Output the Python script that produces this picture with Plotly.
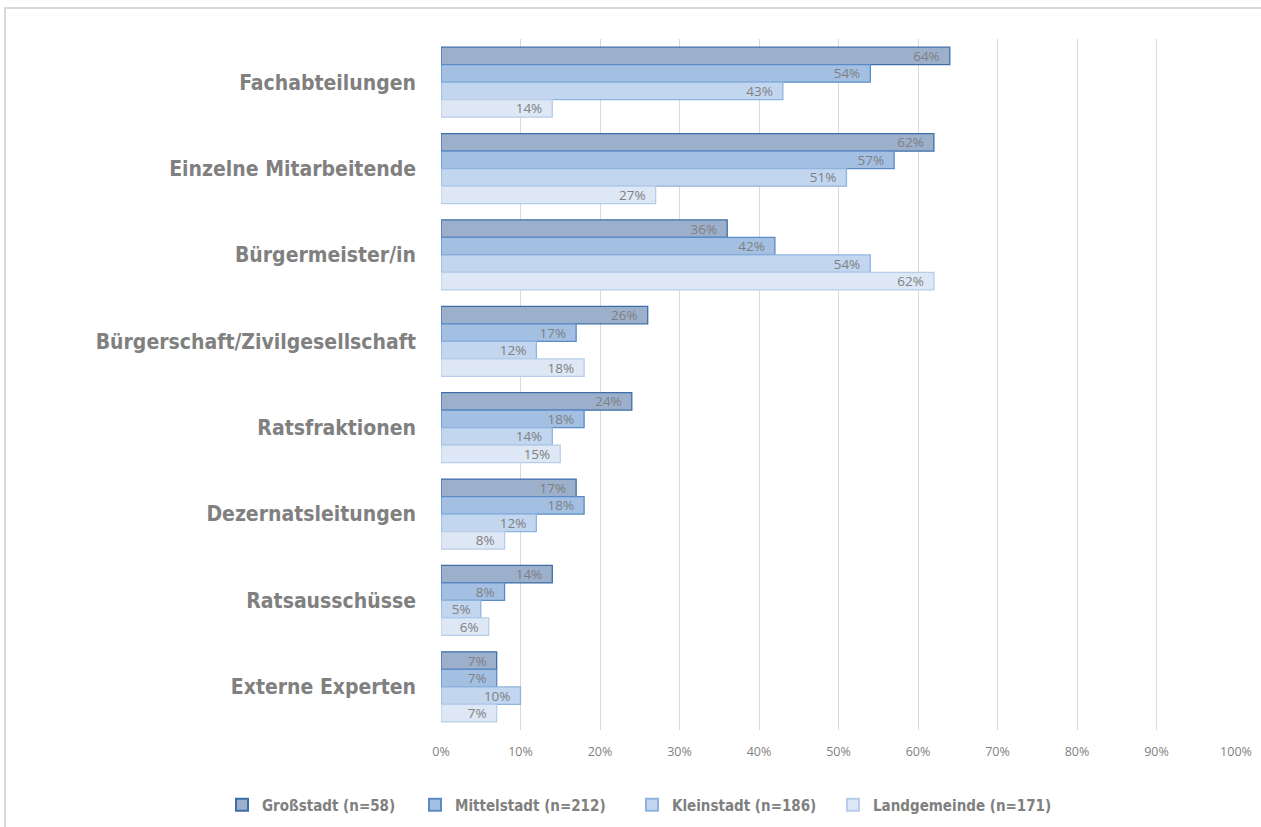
import plotly.graph_objects as go

categories = ["Fachabteilungen", "Einzelne Mitarbeitende", "Bürgermeister/in",
              "Bürgerschaft/Zivilgesellschaft", "Ratsfraktionen", "Dezernatsleitungen",
              "Ratsausschüsse", "Externe Experten"]
series_names = ["Großstadt (n=58)", "Mittelstadt (n=212)", "Kleinstadt (n=186)", "Landgemeinde (n=171)"]
grossstadt = [64, 62, 36, 26, 24, 17, 14, 7]
mittelstadt = [54, 57, 42, 17, 18, 18, 8, 7]
kleinstadt = [43, 51, 54, 12, 14, 12, 5, 10]
landgemeinde = [14, 27, 62, 18, 15, 8, 6, 7]
tick_vals = [0, 10, 20, 30, 40, 50, 60, 70, 80, 90, 100]
tick_text = [f"{v}%" for v in tick_vals]

fills = ["#9cb0cc", "#a3c0e3", "#c2d6ef", "#dde7f5"]
borders = ["#3d6ea8", "#5b8bc7", "#8fb3df", "#b8cde9"]
legend_ids = ["legend", "legend2", "legend3", "legend4"]
legend_px = [222, 415, 632, 833]

W, H = 1261, 827
L, R, T, B = 441, 25, 39, 97
pw, ph = W - L - R, H - T - B

fig = go.Figure()
for name, vals, fc, bc, lg in zip(series_names, [grossstadt, mittelstadt, kleinstadt, landgemeinde],
                                  fills, borders, legend_ids):
    fig.add_trace(go.Bar(
        y=categories, x=vals, orientation="h", name=name, legend=lg,
        marker=dict(color=fc, line=dict(color=bc, width=1.3)),
        text=[f"{v}%\u00a0\u00a0" for v in vals], textposition="inside", insidetextanchor="end",
        textangle=0,
        textfont=dict(family="Open Sans, Liberation Sans, sans-serif", size=13.5, color="#7f7f7f"),
        constraintext="none", cliponaxis=False,
    ))

label_font = dict(family="DejaVu Sans Condensed, Liberation Sans Narrow, sans-serif", size=21, color="#808080", weight="bold")
legend_font = dict(family="DejaVu Sans Condensed, Liberation Sans Narrow, sans-serif", size=15, color="#808080", weight="bold")

legends = {}
for lg, px in zip(legend_ids, legend_px):
    legends[lg] = dict(orientation="h", xref="paper", yref="paper",
                       x=(px - L) / pw, y=(H - B - 805) / ph,
                       xanchor="left", yanchor="middle",
                       font=legend_font, itemwidth=30, itemsizing="constant",
                       bgcolor="rgba(0,0,0,0)")

fig.update_layout(
    width=W, height=H, barmode="group", bargap=0.19, bargroupgap=0,
    margin=dict(l=L, r=R, t=T, b=B, autoexpand=False),
    plot_bgcolor="white", paper_bgcolor="white",
    uniformtext=dict(mode="show", minsize=12),
    xaxis=dict(range=[0, 100], tickvals=tick_vals, ticktext=tick_text, showgrid=True,
               gridcolor="#d9d9d9", gridwidth=1, zeroline=False, showline=False,
               ticklabelstandoff=12, automargin=False,
               tickfont=dict(family="Open Sans, Liberation Sans, sans-serif", size=12.5, color="#7f7f7f"),
               fixedrange=True),
    yaxis=dict(autorange="reversed", showline=False, showgrid=False, ticks="",
               ticklabelstandoff=24, tickfont=label_font, automargin=False),
    showlegend=True,
    **legends,
)

# chart frame (light grey border)
fig.add_shape(type="rect", xref="paper", yref="paper",
              x0=(5 - L) / pw, x1=(W + 10 - L) / pw,
              y0=(H - B - (H + 10)) / ph, y1=(H - B - 8) / ph,
              line=dict(color="#d9d9d9", width=2), fillcolor="rgba(0,0,0,0)", layer="below")

fig.write_html("out.html", config={"displayModeBar": False},
               post_script="document.body.style.margin='0';document.body.style.overflow='hidden';")
